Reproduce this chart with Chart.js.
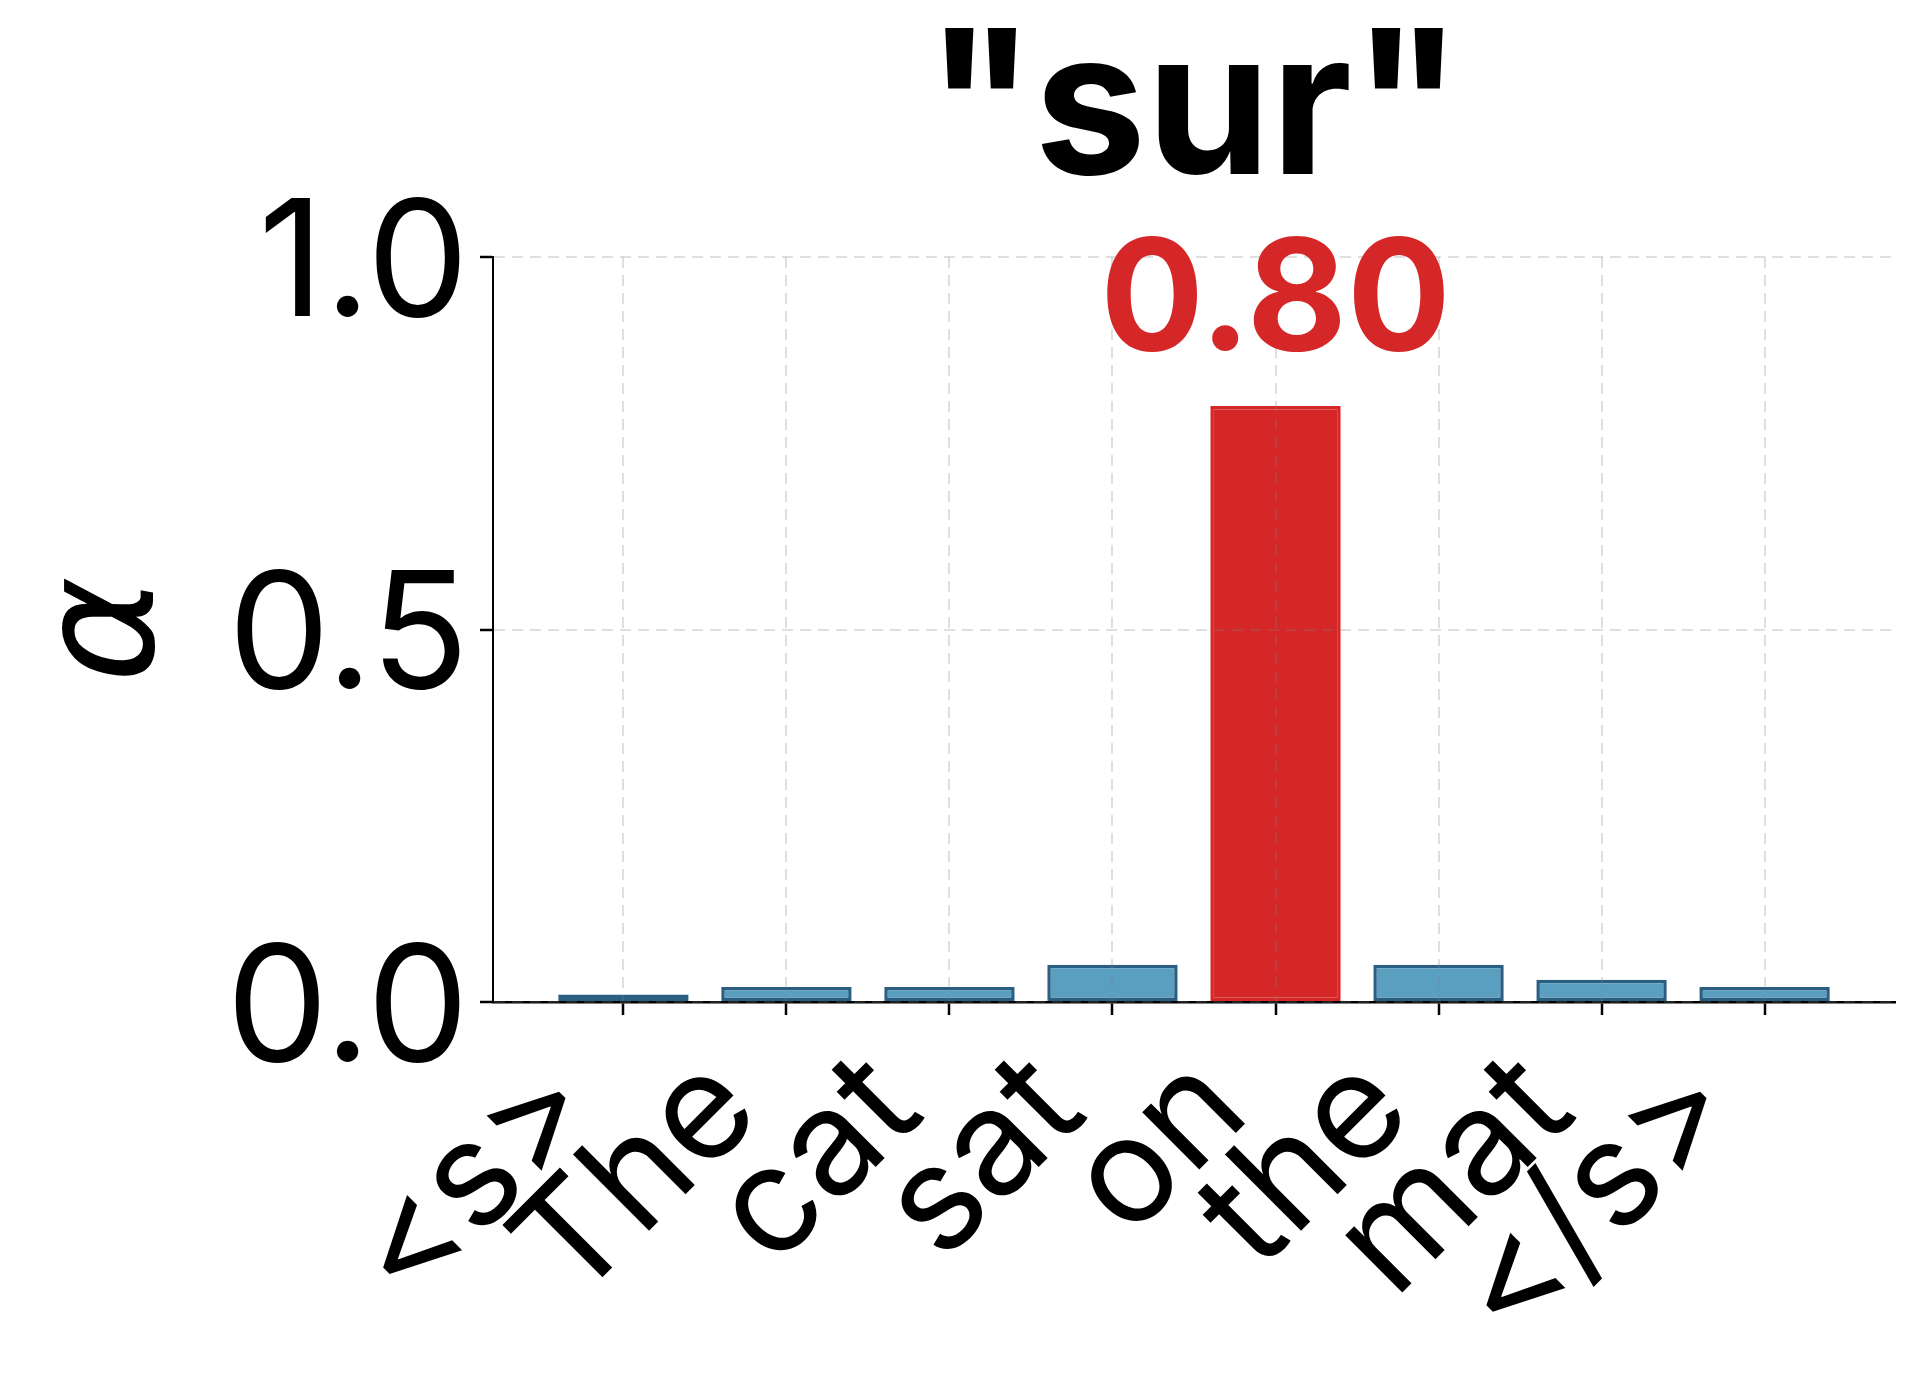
<!DOCTYPE html>
<html>
<head>
<meta charset="utf-8">
<script src="https://cdn.jsdelivr.net/npm/chart.js@4.4.0/dist/chart.umd.min.js"></script>
<style>
  html, body { margin: 0; padding: 0; background: #fff; }
</style>
</head>
<body>
<canvas id="myChart" width="1920" height="1380"></canvas>
<script>
// attention weights for the target word "sur"
const tokens = ['<s>', 'The', 'cat', 'sat', 'on', 'the', 'mat', '</s>'];
const weights = [0.01, 0.02, 0.02, 0.05, 0.80, 0.05, 0.03, 0.02];
const yTicks = [0.0, 0.5, 1.0];
const titleText = '"sur"';

const peak = weights.indexOf(Math.max(...weights));
const fillColors = weights.map((w, i) => i === peak ? '#d62728' : '#5a9ec0');
const edgeColors = weights.map((w, i) => i === peak ? '#d62728' : '#2a5f82');

// value label above the highlighted bar
const peakLabel = {
    id: 'peakLabel',
    afterDraw(chart) {
        const ctx = chart.ctx;
        const x = chart.scales.x.getPixelForValue(peak);
        const y = chart.scales.y.getPixelForValue(weights[peak]);
        ctx.save();
        ctx.font = 'bold 154px Inter';
        ctx.fillStyle = '#d62728';
        ctx.textAlign = 'center';
        ctx.textBaseline = 'alphabetic';
        ctx.fillText(weights[peak].toFixed(2), x, y - 56);
        ctx.restore();
    }
};

const gridStyle = {
    z: 1,
    color: 'rgba(128, 128, 128, 0.25)',
    lineWidth: 2,
    tickColor: '#000',
    tickLength: 13,
    tickWidth: 2.5,
    tickBorderDash: []
};

new Chart(document.getElementById('myChart').getContext('2d'), {
    type: 'bar',
    data: {
        datasets: [{
            data: tokens.map((t, i) => ({ x: i, y: weights[i] })),
            backgroundColor: fillColors,
            borderColor: edgeColors,
            borderWidth: 3.5,
            borderSkipped: false,
            categoryPercentage: 1.0,
            barPercentage: 0.8
        }]
    },
    options: {
        responsive: false,
        devicePixelRatio: 1,
        animation: false,
        layout: { padding: { left: 0, right: 25, top: 0, bottom: 0 } },
        plugins: {
            legend: { display: false },
            tooltip: { enabled: false },
            title: {
                display: true,
                text: titleText,
                fullSize: false,
                color: '#000',
                font: { family: 'Inter', size: 200, weight: 'bold', lineHeight: 1 },
                padding: { top: 14, bottom: 43 }
            }
        },
        scales: {
            x: {
                type: 'linear',
                min: -0.8,
                max: 7.8,
                offset: false,
                afterBuildTicks: (scale) => { scale.ticks = tokens.map((t, i) => ({ value: i })); },
                afterFit: (scale) => { scale.height = 378; },
                grid: Object.assign({ offset: false }, gridStyle),
                border: { display: true, color: '#000', width: 2.5, dash: [11, 7], z: 1 },
                ticks: {
                    autoSkip: false,
                    minRotation: 45,
                    maxRotation: 45,
                    padding: 17,
                    labelOffset: -54,
                    color: '#000',
                    font: { family: 'Inter', size: 148, lineHeight: 1 },
                    callback: (v) => tokens[v]
                }
            },
            y: {
                min: 0,
                max: 1,
                afterBuildTicks: (scale) => { scale.ticks = yTicks.map(v => ({ value: v })); },
                afterFit: (scale) => { scale.width = 493; },
                grid: gridStyle,
                border: { display: true, color: '#000', width: 2, dash: [11, 7], z: 1 },
                ticks: {
                    padding: 11,
                    labelOffset: 10,
                    color: '#000',
                    font: { family: 'Inter', size: 162 },
                    callback: (v) => v.toFixed(1)
                },
                title: {
                    display: true,
                    text: 'α',
                    color: '#000',
                    font: { family: 'DejaVu Sans', style: 'italic', size: 162, lineHeight: 1 },
                    padding: { top: 30, bottom: 0 }
                }
            }
        }
    },
    plugins: [peakLabel]
});
</script>
</body>
</html>
